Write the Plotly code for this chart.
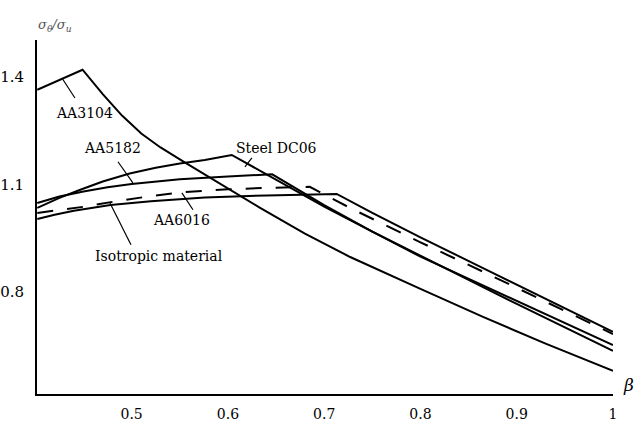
import plotly.graph_objects as go

# Limit stress ratio versus strain ratio beta for several sheet materials
beta_aa3104 = [0.402, 0.425, 0.449, 0.47, 0.49, 0.51, 0.53, 0.553, 0.58, 0.602, 0.633, 0.68, 0.727, 0.8, 0.865, 0.93, 1.0]
ratio_aa3104 = [1.364, 1.392, 1.420, 1.352, 1.292, 1.242, 1.203, 1.165, 1.121, 1.086, 1.035, 0.962, 0.897, 0.808, 0.730, 0.655, 0.579]

beta_steel = [0.402, 0.425, 0.446, 0.47, 0.498, 0.525, 0.55, 0.576, 0.604, 0.65, 0.7, 0.75, 0.8, 0.9, 1.0]
ratio_steel = [1.034, 1.062, 1.084, 1.108, 1.130, 1.146, 1.158, 1.168, 1.182, 1.112, 1.038, 0.968, 0.900, 0.766, 0.635]

beta_aa5182 = [0.402, 0.425, 0.45, 0.475, 0.5, 0.55, 0.6, 0.646, 0.7, 0.75, 0.8, 0.865, 0.93, 1.0]
ratio_aa5182 = [1.048, 1.066, 1.080, 1.092, 1.101, 1.114, 1.122, 1.128, 1.042, 0.968, 0.898, 0.818, 0.737, 0.651]

beta_aa6016 = [0.402, 0.43, 0.452, 0.48, 0.517, 0.552, 0.6, 0.64, 0.685, 0.727, 0.8, 0.865, 0.93, 1.0]
ratio_aa6016 = [1.020, 1.029, 1.038, 1.051, 1.066, 1.078, 1.086, 1.090, 1.093, 1.034, 0.938, 0.856, 0.772, 0.682]

beta_iso = [0.402, 0.42, 0.44, 0.46, 0.478, 0.52, 0.576, 0.64, 0.713, 0.75, 0.8, 0.865, 0.93, 1.0]
ratio_iso = [1.003, 1.015, 1.026, 1.035, 1.042, 1.053, 1.063, 1.069, 1.073, 1.020, 0.952, 0.866, 0.780, 0.688]

x_ticks = [0.5, 0.6, 0.7, 0.8, 0.9, 1.0]
x_tick_text = ["0.5", "0.6", "0.7", "0.8", "0.9", "1"]
y_ticks = [0.8, 1.1, 1.4]
y_tick_text = ["0.8", "1.1", "1.4"]

# Curve labels: text, text anchor position, pointer start/end (data units)
labels = [
    ("AA3104", 0.4515, 1.299, "center", (0.4276, 1.397), (0.4411, 1.341)),
    ("AA5182", 0.4806, 1.202, "center", (0.4858, 1.163), (0.5013, 1.104)),
    ("Steel DC06", 0.6509, 1.202, "center", (0.6249, 1.174), (0.6177, 1.149)),
    ("AA6016", 0.5522, 1.001, "center", (0.5637, 1.029), (0.5522, 1.076)),
    ("Isotropic material", 0.4598, 0.900, "left", (0.4993, 0.931), (0.4775, 1.048)),
]

SERIF = "DejaVu Serif"

fig = go.Figure()

solid = dict(color="black", width=2)
fig.add_trace(go.Scatter(x=beta_aa3104, y=ratio_aa3104, mode="lines", line=solid, name="AA3104"))
fig.add_trace(go.Scatter(x=beta_steel, y=ratio_steel, mode="lines", line=solid, name="Steel DC06"))
fig.add_trace(go.Scatter(x=beta_aa5182, y=ratio_aa5182, mode="lines", line=solid, name="AA5182"))
fig.add_trace(go.Scatter(x=beta_aa6016, y=ratio_aa6016, mode="lines",
                         line=dict(color="black", width=2, dash="16px,14px"), name="AA6016"))
fig.add_trace(go.Scatter(x=beta_iso, y=ratio_iso, mode="lines", line=solid, name="Isotropic material"))

for text, tx, ty, anchor, p0, p1 in labels:
    fig.add_annotation(x=tx, y=ty, text=text, showarrow=False, xanchor=anchor,
                       font=dict(family=SERIF, size=14, color="black"))
    fig.add_shape(type="line", x0=p0[0], y0=p0[1], x1=p1[0], y1=p1[1],
                  line=dict(color="black", width=1.2))

# Axis titles
fig.add_annotation(xref="paper", yref="paper", x=-0.002, y=1.071,
                   text="<i>σ<sub>θ</sub>/σ<sub>u</sub></i>", showarrow=False,
                   font=dict(family=SERIF, size=13, color="#555555"))
fig.add_annotation(xref="paper", yref="paper", x=1.04, y=-0.008,
                   text="<i>β</i>", showarrow=False,
                   font=dict(family=SERIF, size=17, color="black"))

fig.update_xaxes(range=[0.4017, 1.0], tickvals=x_ticks, ticktext=x_tick_text,
                 showline=True, linecolor="black", linewidth=2, showgrid=False,
                 zeroline=False, ticks="", ticklabelstandoff=6,
                 tickfont=dict(family=SERIF, size=14, color="black"))
fig.update_yaxes(range=[0.5145, 1.503], tickvals=y_ticks, ticktext=y_tick_text,
                 showline=True, linecolor="black", linewidth=2, showgrid=False,
                 zeroline=False, ticks="", ticklabelstandoff=8,
                 tickfont=dict(family=SERIF, size=15, color="black"))

fig.update_layout(width=639, height=423, showlegend=False,
                  font=dict(family=SERIF),
                  margin=dict(l=37, r=26, t=40, b=29, autoexpand=False),
                  plot_bgcolor="white", paper_bgcolor="white")

fig.write_html("out.html")
